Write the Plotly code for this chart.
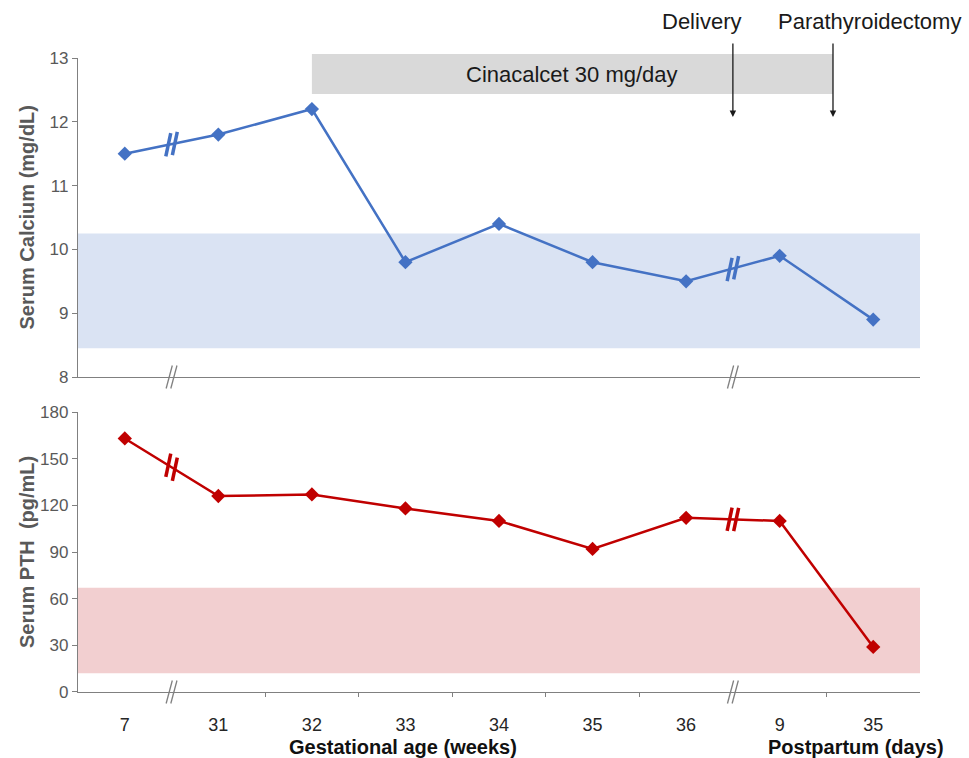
import plotly.graph_objects as go

# ---------------- data ----------------
categories = ["7", "31", "32", "33", "34", "35", "36", "9", "35"]
calcium = [11.5, 11.8, 12.2, 9.8, 10.4, 9.8, 9.5, 9.9, 8.9]
pth = [163, 126, 127, 118, 110, 92, 112, 110, 29]
calcium_normal = [8.45, 10.25]
pth_normal = [12, 67]
break_after = [0, 6]          # axis breaks between category i and i+1
cinacalcet_start = 2          # index of category "32"
cinacalcet_end = 7.57
delivery_pos = 6.5
ptx_pos = 7.57
calcium_range = [8, 13]
pth_range = [0, 180]

FONT = "Liberation Sans, Arial, sans-serif"
BLUE = "#4472C4"
RED = "#C00000"
GRAY = "#808080"
TICKGRAY = "#595959"

x = list(range(len(categories)))
xr = [-0.5, len(categories) - 0.5]

top_dom = [0.4968, 1.0]
bot_dom = [0.0, 0.4416]

fig = go.Figure()

# main series
fig.add_trace(go.Scatter(x=x, y=calcium, mode="lines+markers", xaxis="x", yaxis="y",
                         line=dict(color=BLUE, width=2.5),
                         marker=dict(symbol="diamond", size=11, color=BLUE),
                         showlegend=False, hoverinfo="skip"))
fig.add_trace(go.Scatter(x=x, y=pth, mode="lines+markers", xaxis="x2", yaxis="y2",
                         line=dict(color=RED, width=2.5),
                         marker=dict(symbol="diamond", size=11, color=RED),
                         showlegend=False, hoverinfo="skip"))

# break marks on the data lines and on the axes
def line_breaks(vals, xa, ya, color, ymin):
    bx, by, ax_, ay_ = [], [], [], []
    for i in break_after:
        for d in (-0.035, 0.035):
            xm = i + 0.5 + d
            bx.append(xm)
            by.append(vals[i] + (vals[i + 1] - vals[i]) * (xm - i))
        for d in (-0.025, 0.025):
            ax_.append(i + 0.5 + d)
            ay_.append(ymin)
    fig.add_trace(go.Scatter(x=bx, y=by, mode="markers", xaxis=xa, yaxis=ya,
                             marker=dict(symbol="line-ns", size=17, angle=12,
                                         line=dict(width=3.5, color=color)),
                             showlegend=False, hoverinfo="skip"))
    fig.add_trace(go.Scatter(x=ax_, y=ay_, mode="markers", xaxis=xa, yaxis=ya,
                             cliponaxis=False,
                             marker=dict(symbol="line-ns", size=17, angle=15,
                                         line=dict(width=1.3, color=GRAY)),
                             showlegend=False, hoverinfo="skip"))

line_breaks(calcium, "x", "y", BLUE, calcium_range[0])
line_breaks(pth, "x2", "y2", RED, pth_range[0])

shapes = [
    dict(type="rect", xref="x", yref="y", x0=xr[0], x1=xr[1],
         y0=calcium_normal[0], y1=calcium_normal[1],
         fillcolor="#DAE3F3", line=dict(width=0), layer="below"),
    dict(type="rect", xref="x2", yref="y2", x0=xr[0], x1=xr[1],
         y0=pth_normal[0], y1=pth_normal[1],
         fillcolor="#F2CFD0", line=dict(width=0), layer="below"),
    dict(type="rect", xref="x", yref="paper", x0=cinacalcet_start, x1=cinacalcet_end,
         y0=0.9432, y1=1.0063, fillcolor="#D9D9D9", line=dict(width=0), layer="below"),
]

def txt(text, **kw):
    d = dict(text=text, showarrow=False, xanchor="center", yanchor="middle")
    d.update(kw)
    return d

annotations = [
    txt("Cinacalcet 30 mg/day", xref="x", yref="paper",
        x=(cinacalcet_start + cinacalcet_end) / 2, y=(0.9432 + 1.0063) / 2,
        font=dict(family=FONT, size=22, color="#1a1a1a")),
    dict(text="", xref="x", yref="y", x=delivery_pos, y=12.075, ax=0, ay=-75,
         showarrow=True, arrowhead=2, arrowsize=1, arrowwidth=1.3, arrowcolor="#1a1a1a"),
    dict(text="", xref="x", yref="y", x=ptx_pos, y=12.075, ax=0, ay=-75,
         showarrow=True, arrowhead=2, arrowsize=1, arrowwidth=1.3, arrowcolor="#1a1a1a"),
    txt("Delivery", xref="x", yref="paper", x=delivery_pos, xshift=-31, y=1.0568,
        font=dict(family=FONT, size=22, color="#1a1a1a")),
    txt("Parathyroidectomy", xref="x", yref="paper", x=ptx_pos, xshift=37, y=1.0568,
        font=dict(family=FONT, size=22, color="#1a1a1a")),
    txt("<b>Serum Calcium (mg/dL)</b>", xref="paper", yref="paper",
        x=-0.0606, y=sum(top_dom) / 2, textangle=-90,
        font=dict(family=FONT, size=20, color=TICKGRAY)),
    txt("<b>Serum PTH  (pg/mL)</b>", xref="paper", yref="paper",
        x=-0.0606, y=sum(bot_dom) / 2, textangle=-90,
        font=dict(family=FONT, size=20, color=TICKGRAY)),
    txt("<b>Gestational age (weeks)</b>", xref="paper", yref="paper",
        x=0.386, y=-0.0868, font=dict(family=FONT, size=20, color="#111111")),
    txt("<b>Postpartum (days)</b>", xref="paper", yref="paper",
        x=0.924, y=-0.0868, font=dict(family=FONT, size=20, color="#111111")),
]

minor_vals = [i + 0.5 for i in range(len(categories) - 1) if i not in break_after]

yax = dict(showline=True, linecolor=GRAY, linewidth=1.3, ticks="outside", ticklen=5,
           tickcolor=GRAY, showgrid=False, zeroline=False,
           tickfont=dict(family=FONT, size=17, color=TICKGRAY))

fig.update_layout(
    width=969, height=758,
    margin=dict(l=78, r=49, t=58, b=66),
    paper_bgcolor="white", plot_bgcolor="white",
    font=dict(family=FONT),
    shapes=shapes, annotations=annotations,
    xaxis=dict(domain=[0, 1], anchor="y", range=xr, showline=True, linecolor=GRAY,
               linewidth=1.3, showticklabels=False, ticks="", showgrid=False, zeroline=False),
    yaxis=dict(domain=top_dom, anchor="x", range=calcium_range, dtick=1, **yax),
    xaxis2=dict(domain=[0, 1], anchor="y2", range=xr, showline=True, linecolor=GRAY,
                linewidth=1.3, tickmode="array", tickvals=x, ticktext=categories,
                ticks="", ticklabelstandoff=16, showgrid=False, zeroline=False,
                tickfont=dict(family=FONT, size=18, color="#262626"),
                minor=dict(tickmode="array", tickvals=minor_vals, ticks="outside",
                           ticklen=4, tickcolor=GRAY, showgrid=False)),
    yaxis2=dict(domain=bot_dom, anchor="x2", range=pth_range, dtick=30, **yax),
)

fig.write_html("out.html", config={"displayModeBar": False},
               post_script="document.body.style.margin='0';document.body.style.padding='0';")
